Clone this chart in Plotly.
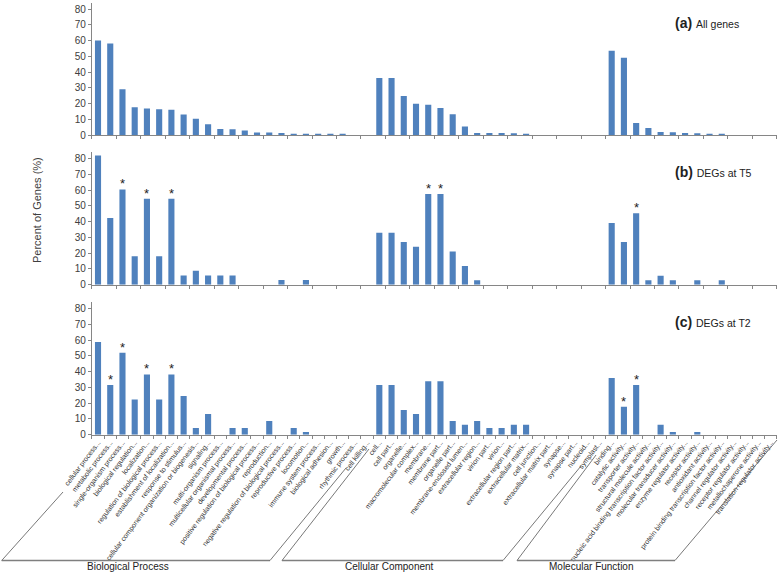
import plotly.graph_objects as go

W, H = 778, 575

bp_labels = ["cellular process", "metabolic process", "single-organism process", "biological regulation",
             "localization", "regulation of biological process", "establishment of localization",
             "response to stimulus", "cellular component organization or biogenesis", "signaling",
             "multi-organism process", "multicellular organismal process", "developmental process",
             "positive regulation of biological process", "reproduction",
             "negative regulation of biological process", "reproductive process", "locomotion",
             "immune system process", "biological adhesion", "growth", "rhythmic process", "cell killing"]
cc_labels = ["cell", "cell part", "organelle", "macromolecular complex", "membrane", "membrane part",
             "organelle part", "membrane-enclosed lumen", "extracellular region", "virion part", "virion",
             "extracellular region part", "extracellular matrix", "cell junction",
             "extracellular matrix part", "synapse", "synapse part", "nucleoid", "symplast"]
mf_labels = ["binding", "catalytic activity", "transporter activity", "structural molecule activity",
             "nucleic acid binding transcription factor activity", "molecular transducer activity",
             "enzyme regulator activity", "receptor activity", "antioxidant activity",
             "protein binding transcription factor activity", "channel regulator activity",
             "receptor regulator activity", "metallochaperone activity", "translation regulator activity"]

all_bp = [60.1, 58.2, 29.1, 17.7, 16.9, 16.5, 16.2, 13.1, 10.5, 7.0, 4.0, 3.8, 3.0, 1.7, 1.7, 1.5,
          1.0, 0.9, 0.8, 0.8, 0.4, 0, 0]
all_cc = [36.3, 36.3, 24.9, 20.0, 19.4, 17.3, 13.3, 5.5, 1.5, 1.5, 1.5, 1.3, 0.4, 0, 0, 0, 0, 0, 0]
all_mf = [53.6, 49.2, 7.8, 4.6, 2.1, 1.9, 1.5, 1.3, 0.8, 0.8, 0, 0, 0, 0]

t5_bp = [82.1, 42.3, 60.5, 18.0, 54.6, 18.0, 54.6, 5.9, 8.9, 5.9, 5.9, 5.9, 0, 0, 0, 3.0, 0, 3.0,
         0, 0, 0, 0, 0]
t5_cc = [33.0, 33.0, 27.1, 24.1, 57.6, 57.6, 21.0, 11.9, 2.8, 0, 0, 0, 0, 0, 0, 0, 0, 0, 0]
t5_mf = [39.2, 27.1, 45.3, 2.8, 5.7, 2.8, 0, 2.8, 0, 2.8, 0, 0, 0, 0]

t2_bp = [58.8, 31.5, 52.1, 22.4, 38.3, 22.4, 38.3, 24.6, 4.2, 13.1, 0, 4.2, 4.2, 0, 8.7, 0, 4.2, 1.7,
         0, 0, 0, 0, 0]
t2_cc = [31.5, 31.5, 15.7, 13.1, 33.9, 33.9, 8.7, 6.3, 8.7, 4.2, 4.2, 6.3, 6.3, 0, 0, 0, 0, 0, 0]
t2_mf = [36.0, 17.8, 31.5, 0, 6.3, 1.7, 0, 1.7, 0, 0, 0, 0, 0, 0]

# significant categories (marked with *)
t5_sig = ["single-organism process", "localization", "establishment of localization",
          "membrane", "membrane part", "transporter activity"]
t2_sig = ["metabolic process", "single-organism process", "localization", "establishment of localization",
          "catalytic activity", "transporter activity"]

panel_tags = ["(a)", "(b)", "(c)"]
panel_names = ["All genes", "DEGs at T5", "DEGs at T2"]
group_names = ["Biological Process", "Cellular Component", "Molecular Function"]
y_ticks = [0, 10, 20, 30, 40, 50, 60, 70, 80]

labels = [s + "..." for s in bp_labels + cc_labels + mf_labels]
series = [all_bp + all_cc + all_mf, t5_bp + t5_cc + t5_mf, t2_bp + t2_cc + t2_mf]
sigs = [[], t5_sig, t2_sig]

FONT = "Arial, Liberation Sans, sans-serif"
AX = "#868686"
BAR = "#4F81BD"


def fx(px):
    return px / W


def fy(py):
    return 1 - py / H


# pixel extents of each panel (top of y range, y=0 line)
panels_px = [(2.7, 135.3), (152.4, 284.7), (302.4, 434.7)]
x_dom = [fx(91.9), fx(776.8)]

fig = go.Figure()
layout = dict(
    width=W, height=H, template="none", showlegend=False,
    margin=dict(l=0, r=0, t=0, b=0),
    paper_bgcolor="white", plot_bgcolor="white",
    bargap=0.5,
    font=dict(family=FONT, color="#404040"),
)
annotations = []
for k in range(3):
    suf = "" if k == 0 else str(k + 1)
    fig.add_trace(go.Bar(x=labels, y=series[k], marker=dict(color=BAR, line=dict(width=0)),
                         xaxis="x" + suf, yaxis="y" + suf, hoverinfo="x+y"))
    top, bot = panels_px[k]
    layout["xaxis" + suf] = dict(
        domain=x_dom, anchor="y" + suf, type="category", range=[-0.5, len(labels) - 0.5],
        showline=True, linecolor=AX, linewidth=1, showgrid=False, zeroline=False,
        ticks="outside", ticklen=3, tickcolor=AX, tickson="boundaries",
        showticklabels=(k == 2), tickangle=-53, automargin=False,
        tickfont=dict(size=7, color="#333333", family=FONT),
    )
    layout["yaxis" + suf] = dict(
        domain=[fy(bot), fy(top)], anchor="x" + suf, range=[0, 84],
        tickvals=y_ticks, showline=True, linecolor=AX, linewidth=1, showgrid=False,
        zeroline=False, ticks="outside", ticklen=3, tickcolor=AX, automargin=False,
        tickfont=dict(size=10, color="#404040", family=FONT),
    )
    # panel titles
    cy = [23, 172, 322][k]
    annotations.append(dict(
        xref="paper", yref="paper", x=fx(673), y=fy(cy), xanchor="left", yanchor="middle",
        showarrow=False,
        text="<b><span style='font-size:14px'>%s</span></b> <span style='font-size:10.5px'>%s</span>"
             % (panel_tags[k], panel_names[k]),
        font=dict(family=FONT, color="#222222", size=14),
    ))
    for name in sigs[k]:
        lab = name + "..."
        val = series[k][labels.index(lab)]
        annotations.append(dict(
            xref="x" + suf, yref="y" + suf, x=lab, y=val, yanchor="bottom", showarrow=False,
            text="*", font=dict(family=FONT, size=13, color="#222222"), yshift=-4,
        ))

# y axis title
annotations.append(dict(
    xref="paper", yref="paper", x=fx(37), y=fy(210), showarrow=False, textangle=-90,
    text="Percent of Genes (%)", font=dict(family=FONT, size=11, color="#404040"),
    xanchor="center", yanchor="middle",
))
# group titles
for name, cx in zip(group_names, [128, 390, 591]):
    annotations.append(dict(
        xref="paper", yref="paper", x=fx(cx), y=fy(566), showarrow=False, text=name,
        font=dict(family=FONT, size=10, color="#222222"), xanchor="center", yanchor="middle",
    ))

# group bracket lines (decoration under the category axis)
bracket_segments = [
    ((1.7, 560.5), (63, 492)), ((1.7, 560.5), (270, 560.5)), ((270, 560.5), (346, 468)),
    ((282, 560.5), (369, 449)), ((282, 560.5), (503, 560.5)), ((503, 560.5), (581, 466)),
    ((517, 560.5), (596, 455)), ((517, 560.5), (675, 560.5)), ((675, 560.5), (777, 440)),
]
shapes = []
for (x0, y0), (x1, y1) in bracket_segments:
    horiz = abs(y0 - y1) < 0.1
    shapes.append(dict(type="line", xref="paper", yref="paper",
                       x0=fx(x0), y0=fy(y0), x1=fx(x1), y1=fy(y1),
                       line=dict(color="#7f7f7f" if horiz else "#555555", width=1.5 if horiz else 0.8)))

layout["annotations"] = annotations
layout["shapes"] = shapes
fig.update_layout(**layout)
fig.write_html("out.html", config={"displayModeBar": False},
               post_script="document.body.style.margin='0';document.body.style.padding='0';")
